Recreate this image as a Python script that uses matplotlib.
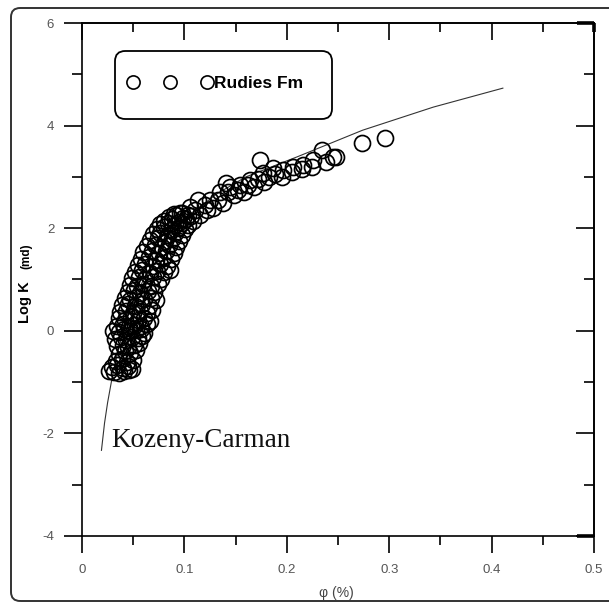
import numpy as np
import matplotlib
matplotlib.use("Agg")
import matplotlib.pyplot as plt
from matplotlib.lines import Line2D
from matplotlib.patches import FancyBboxPatch
from matplotlib.ticker import MultipleLocator

# porosity / log permeability, Rudies Fm core plugs
# low-porosity band (phi < ~0.11)
phi_low = [
    0.026, 0.031, 0.036, 0.041, 0.046, 0.029, 0.034, 0.040, 0.045, 0.049,
    0.033, 0.039, 0.044, 0.050, 0.036, 0.042, 0.047, 0.053,
    0.034, 0.040, 0.045, 0.051, 0.056, 0.032, 0.038, 0.043, 0.049, 0.055, 0.059,
    0.030, 0.036, 0.041, 0.047, 0.053, 0.058, 0.061,
    0.034, 0.040, 0.046, 0.052, 0.058, 0.063, 0.036, 0.042, 0.048, 0.055, 0.061, 0.066,
    0.037, 0.043, 0.050, 0.057, 0.063, 0.068, 0.039, 0.045, 0.052, 0.059, 0.065,
    0.042, 0.047, 0.054, 0.061, 0.067, 0.072, 0.045, 0.051, 0.057, 0.064, 0.070,
    0.047, 0.054, 0.060, 0.067, 0.074, 0.049, 0.056, 0.062, 0.069, 0.077,
    0.052, 0.059, 0.066, 0.073, 0.080, 0.086, 0.055, 0.062, 0.069, 0.076, 0.083,
    0.058, 0.065, 0.072, 0.079, 0.087, 0.060, 0.068, 0.075, 0.082, 0.090,
    0.063, 0.071, 0.078, 0.085, 0.092, 0.066, 0.074, 0.081, 0.088, 0.095,
    0.069, 0.076, 0.084, 0.091, 0.098, 0.073, 0.080, 0.087, 0.094, 0.101,
    0.076, 0.084, 0.091, 0.098, 0.104, 0.080, 0.088, 0.095, 0.102, 0.108,
    0.085, 0.092, 0.099, 0.106, 0.090, 0.098, 0.104,
]
logk_low = [
    -0.78, -0.80, -0.83, -0.79, -0.76, -0.70, -0.66, -0.72, -0.68, -0.74,
    -0.58, -0.55, -0.60, -0.56, -0.45, -0.40, -0.43, -0.38,
    -0.30, -0.27, -0.32, -0.28, -0.24, -0.16, -0.13, -0.18, -0.12, -0.15, -0.10,
    0.00, -0.02, 0.03, -0.01, 0.02, 0.04, -0.04,
    0.10, 0.13, 0.08, 0.12, 0.09, 0.14, 0.24, 0.22, 0.26, 0.21, 0.25, 0.20,
    0.36, 0.39, 0.34, 0.38, 0.35, 0.40, 0.50, 0.53, 0.48, 0.52, 0.49,
    0.63, 0.60, 0.66, 0.62, 0.64, 0.61, 0.76, 0.79, 0.74, 0.78, 0.75,
    0.90, 0.87, 0.92, 0.88, 0.91, 1.02, 1.05, 1.00, 1.04, 1.01,
    1.15, 1.18, 1.13, 1.17, 1.14, 1.19, 1.28, 1.31, 1.26, 1.30, 1.27,
    1.40, 1.43, 1.38, 1.42, 1.39, 1.53, 1.56, 1.51, 1.55, 1.52,
    1.65, 1.68, 1.63, 1.67, 1.64, 1.77, 1.80, 1.75, 1.79, 1.76,
    1.88, 1.91, 1.86, 1.90, 1.87, 1.99, 2.02, 1.97, 2.01, 1.98,
    2.08, 2.11, 2.06, 2.10, 2.07, 2.15, 2.18, 2.13, 2.17, 2.14,
    2.22, 2.25, 2.20, 2.24, 2.28, 2.30, 2.26,
]
# higher-porosity tail
phi_high = [
    0.096, 0.105, 0.110, 0.113, 0.115, 0.120, 0.122, 0.125, 0.128, 0.133,
    0.135, 0.138, 0.141, 0.143, 0.145, 0.148, 0.152, 0.154, 0.158, 0.162,
    0.164, 0.168, 0.172, 0.174, 0.177, 0.178, 0.183, 0.187, 0.188, 0.195,
    0.196, 0.205, 0.206, 0.215, 0.216, 0.225, 0.226, 0.234, 0.238, 0.245,
    0.248, 0.273, 0.296,
]
logk_high = [
    2.30, 2.41, 2.35, 2.55, 2.25, 2.45, 2.35, 2.55, 2.40, 2.55,
    2.70, 2.50, 2.88, 2.70, 2.80, 2.65, 2.75, 2.84, 2.70, 2.85,
    2.94, 2.80, 2.95, 3.33, 3.08, 2.90, 3.00, 3.17, 3.05, 3.00,
    3.13, 3.10, 3.19, 3.15, 3.23, 3.20, 3.33, 3.52, 3.30, 3.39,
    3.38, 3.66, 3.76,
]

# Kozeny-Carman trend line
kc_phi = [0.019, 0.022, 0.025, 0.029, 0.035, 0.045, 0.060, 0.080, 0.100,
          0.130, 0.160, 0.210, 0.274, 0.343, 0.411]
kc_logk = [-2.33, -1.80, -1.40, -0.96, -0.40, 0.30, 1.00, 1.70, 2.15,
           2.65, 3.00, 3.39, 3.91, 4.36, 4.73]

x_ticks = [0, 0.1, 0.2, 0.3, 0.4, 0.5]
y_ticks = [-4, -2, 0, 2, 4, 6]

W, H = 609, 605
fig = plt.figure(figsize=(W / 100, H / 100), dpi=100)
ax = fig.add_axes([82 / W, 1 - 536 / H, 512 / W, 513 / H])

# outer rounded frame
frame = FancyBboxPatch((11 / W, 1 - 601 / H), 1.2, (601 - 8) / H,
                       boxstyle="round,pad=0,rounding_size=0.015",
                       transform=fig.transFigure, fill=False,
                       edgecolor="#333333", lw=1.4, clip_on=False)
fig.patches.append(frame)

ax.plot(kc_phi, kc_logk, color="#333333", lw=0.8, zorder=2)
ax.plot(phi_low + phi_high, logk_low + logk_high, ls="none", marker="o",
        ms=11.5, mfc="none", mec="black", mew=1.25, zorder=3)

ax.set_xlim(0, 0.5)
ax.set_ylim(-4, 6)
ax.set_xticks(x_ticks)
ax.set_yticks(y_ticks)
ax.xaxis.set_minor_locator(MultipleLocator(0.05))
ax.yaxis.set_minor_locator(MultipleLocator(1))
ax.set_xticklabels(["0", "0.1", "0.2", "0.3", "0.4", "0.5"])
ax.set_yticklabels([str(v) for v in y_ticks])

for sp in ax.spines.values():
    sp.set_linewidth(1.2)

lab_kw = dict(labelsize=9.5, labelcolor="#555555", width=1.2, color="black")
ax.tick_params(axis="x", which="major", direction="out", length=12, pad=8,
               top=False, **lab_kw)
ax.tick_params(axis="x", which="minor", direction="out", length=6.5,
               top=False, width=1.2)
ax.tick_params(axis="y", which="major", direction="out", length=13, pad=7,
               right=False, **lab_kw)
ax.tick_params(axis="y", which="minor", direction="out", length=7,
               right=False, width=1.2)
for lab in ax.get_xticklabels() + ax.get_yticklabels():
    lab.set_family("Liberation Sans")

# inward ticks on the top and right edges
top = ax.secondary_xaxis("top")
top.set_xticks(x_ticks)
top.xaxis.set_minor_locator(MultipleLocator(0.05))
top.tick_params(which="major", direction="in", length=12.5, width=1.2,
                labeltop=False)
top.tick_params(which="minor", direction="in", length=6.5, width=1.2)
top.spines["top"].set_linewidth(1.2)

right = ax.secondary_yaxis("right")
right.set_yticks(y_ticks)
right.yaxis.set_minor_locator(MultipleLocator(1))
right.tick_params(which="major", direction="in", length=13, width=1.2,
                  labelright=False)
right.tick_params(which="minor", direction="in", length=7, width=1.2)
right.spines["right"].set_linewidth(1.2)

# heavy corner marks at the right end
ax.plot([0.967, 1.0], [1.0, 1.0], transform=ax.transAxes, color="black",
        lw=2.6, clip_on=False, solid_capstyle="butt")
ax.plot([1.0, 1.0], [1.0, 0.982], transform=ax.transAxes, color="black",
        lw=2.6, clip_on=False, solid_capstyle="butt")
ax.plot([0.967, 1.0], [0.0, 0.0], transform=ax.transAxes, color="black",
        lw=2.6, clip_on=False, solid_capstyle="butt")

# axis titles
fig.text(336 / W, 1 - 593 / H, "φ (%)", ha="center", va="center",
         fontsize=10, color="#444444", family="Liberation Sans")
fig.text(25 / W, 1 - 302 / H, "Log K", rotation=90, ha="center",
         va="center", fontsize=10.5, fontweight="bold",
         family="Liberation Sans")
fig.text(26 / W, 1 - 256 / H, "(md)", rotation=90, ha="center",
         va="center", fontsize=8.5, fontweight="bold",
         family="Liberation Sans")

ax.text(0.029, -2.27, "Kozeny-Carman", family="Liberation Serif",
        fontsize=19.5, va="baseline", ha="left", color="#111111")

# legend box
box = FancyBboxPatch((33 / 512, (536 - 119) / 513), (332 - 115) / 512,
                     (119 - 51) / 513,
                     boxstyle="round,pad=0,rounding_size=0.02",
                     transform=ax.transAxes, fill=True, facecolor="white",
                     edgecolor="black", lw=1.3, zorder=5)
ax.add_patch(box)
handle = Line2D([], [], ls="none", marker="o", ms=9.5, mfc="none",
                mec="black", mew=1.2)
fs = 12.5
leg = ax.legend([handle], ["Rudies Fm"], numpoints=3, frameon=False,
                loc="center left", bbox_to_anchor=((128 - 82) / 512,
                                                   (536 - 83) / 513),
                borderpad=0, borderaxespad=0, handlelength=74 / (fs / 0.72) + 0.6,
                handletextpad=0.1, prop={"family": "Liberation Sans",
                                          "weight": "bold", "size": fs})
leg.set_zorder(6)

fig.savefig("out.png", dpi=100)
